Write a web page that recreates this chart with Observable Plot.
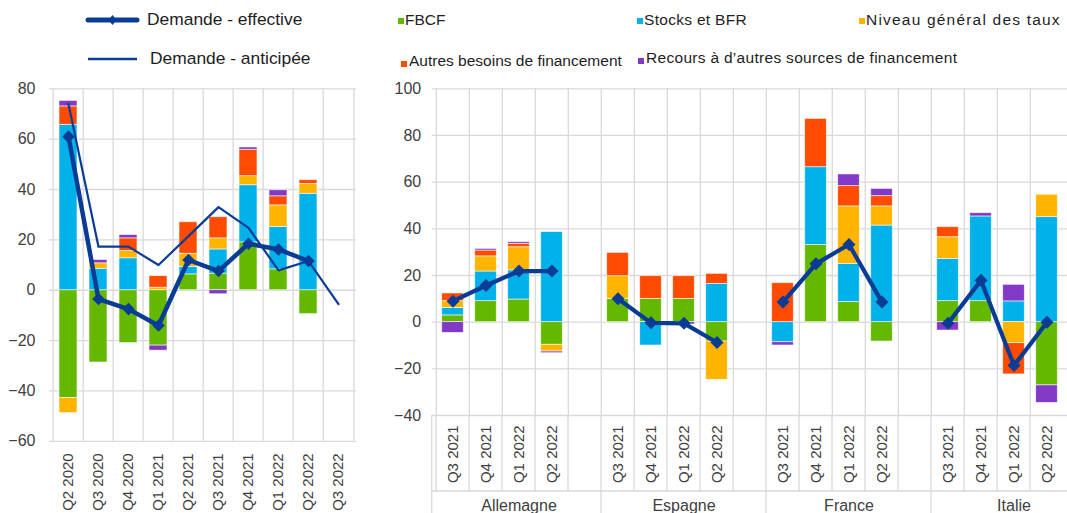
<!DOCTYPE html>
<html><head><meta charset="utf-8">
<script src="https://cdn.jsdelivr.net/npm/d3@7"></script>
<script src="https://cdn.jsdelivr.net/npm/@observablehq/plot@0.6"></script>
<style>
body{margin:0;background:#fff;font-family:Arial,"Liberation Sans",sans-serif;}
#wrap{position:relative;width:1067px;height:513px;overflow:hidden;background:#fff;}
.abs{position:absolute;}
.lg{position:absolute;white-space:nowrap;color:#1e1e1e;line-height:1;}
.sq{position:absolute;width:6px;height:6px;}
</style></head><body><div id="wrap"></div>
<script>
// ---------- data ----------
const seriesNames = ["FBCF","Stocks et BFR","Niveau général des taux","Autres besoins de financement","Recours à d’autres sources de financement"];
const seriesColors = ["#65b800","#00b1ea","#ffb400","#ff4b00","#8139c6"];
const lineNames = ["Demande - effective","Demande - anticipée"];
const lineColor = "#0a3c96";

// left panel: euro area
const leftQuarters = ["Q2 2020","Q3 2020","Q4 2020","Q1 2021","Q2 2021","Q3 2021","Q4 2021","Q1 2022","Q2 2022","Q3 2022"];
const fbcfL    = [-42.8, -28.7, -21.0, -22.0, 6.3, 6.6, 19.0, 8.3, -9.5, null];
const stocksL  = [65.7, 8.5, 12.7, 0, 3.0, 9.6, 22.7, 16.8, 38.3, null];
const tauxL    = [-6.0, 2.2, 2.9, 1.0, 5.2, 4.4, 3.6, 8.6, 3.9, null];
const autresL  = [7.3, 0, 5.0, 4.6, 12.5, 8.4, 10.5, 3.6, 1.5, null];
const recoursL = [2.2, 1.3, 1.3, -2.0, 0, -1.6, 0.9, 2.4, 0, null];
const effL     = [61.0, -3.5, -7.5, -14.0, 12.0, 7.6, 18.5, 16.2, 11.6, null];
const antL     = [73.9, 17.3, 17.3, 10.0, 21.5, 33.0, 24.8, 7.9, 11.6, -5.5];

// right panel: countries
const countries = ["Allemagne","Espagne","France","Italie"];
const rightQuarters = ["Q3 2021","Q4 2021","Q1 2022","Q2 2022"];
const fbcfR    = [2.9, 9.0, 9.7, -9.7,   10.0, 10.0, 10.0, -8.3,   0, 33.1, 8.6, -8.3,    9.0, 9.0, 0, -27.1];
const stocksR  = [3.2, 12.7, 12.5, 38.6, 0, -10.0, 0, 16.4,     -8.6, 33.3, 16.4, 41.4,  18.1, 36.3, 8.9, 45.0];
const tauxR    = [2.9, 6.5, 9.9, -2.9,   9.7, 0, 0, -16.4,      0, 0, 24.6, 8.2,         9.3, 0, -9.0, 9.6];
const autresR  = [3.3, 2.5, 1.5, 0,      10.0, 9.7, 9.7, 4.3,   16.7, 20.7, 8.7, 4.4,    4.3, 0, -13.4, 0];
const recoursR = [-4.6, 0.7, 0.7, -0.7,  0, 0, -1.0, 0,         -1.4, 0, 5.0, 3.1,       -3.6, 1.4, 7.1, -7.5];
const effR     = [9.0, 15.7, 21.9, 21.9, 10.0, -0.3, -0.5, -8.7, 8.6, 25.0, 33.3, 8.6,   -0.5, 17.9, -18.6, 0];

// ---------- helpers ----------
const wrap = document.getElementById("wrap");
const diamond = {draw(ctx, size){ const r = Math.sqrt(size/2); ctx.moveTo(0,-r); ctx.lineTo(r,0); ctx.lineTo(0,r); ctx.lineTo(-r,0); ctx.closePath(); }};
const colorOpt = {domain: seriesNames, range: seriesColors};
const gridColor = "#d9d9d9";
const axisColor = "#404040";
const font = "Arial, 'Liberation Sans', sans-serif";

// ---------- left plot ----------
const leftSeries = [fbcfL, stocksL, tauxL, autresL, recoursL];
const leftRows = [];
leftSeries.forEach((arr, i) => arr.forEach((v, j) => { if (v) leftRows.push({q: leftQuarters[j], s: seriesNames[i], v}); }));
const effLRows = leftQuarters.map((q, j) => ({q, v: effL[j]})).filter(d => d.v != null);
const antLRows = leftQuarters.map((q, j) => ({q, v: antL[j]})).filter(d => d.v != null);

const W1 = 365, H1 = 433, ml1 = 49, mr1 = 9;
const step1 = (W1 - ml1 - mr1) / leftQuarters.length;
const left = Plot.plot({
  width: W1, height: H1, marginTop: 8.3, marginBottom: 72.2, marginLeft: ml1, marginRight: mr1,
  x: {domain: leftQuarters, padding: 0, axis: null},
  y: {domain: [-60, 80], axis: null},
  color: colorOpt,
  style: {fontFamily: font, background: "transparent", overflow: "visible"},
  marks: [
    Plot.ruleY(d3.range(-60, 81, 20), {stroke: gridColor, strokeWidth: 1.3}),
    Plot.ruleX(leftQuarters, {x: d => d, dx: -step1/2, stroke: gridColor, strokeWidth: 1.3}),
    Plot.ruleX([leftQuarters[leftQuarters.length-1]], {x: d => d, dx: step1/2, stroke: gridColor, strokeWidth: 1.3}),
    Plot.axisY({ticks: d3.range(-60, 81, 20), tickSize: 0, tickPadding: 14, fontSize: 16, color: axisColor, label: null}),
    Plot.axisX({tickSize: 0, tickPadding: 12, tickRotate: -90, fontSize: 15, color: axisColor, label: null}),
    Plot.barY(leftRows, Plot.stackY({x: "q", y: "v", fill: "s", order: seriesNames, insetLeft: 6, insetRight: 6, stroke: "white", strokeWidth: 0.8, strokeOpacity: 0.7})),
    Plot.line(antLRows, {x: "q", y: "v", stroke: lineColor, strokeWidth: 2.2}),
    Plot.line(effLRows, {x: "q", y: "v", stroke: lineColor, strokeWidth: 4.5}),
    Plot.dot(effLRows, {x: "q", y: "v", symbol: diamond, r: 5, fill: lineColor, stroke: null})
  ]
});
left.classList.add("abs");
left.style.left = "0px"; left.style.top = "80px";
wrap.appendChild(left);

// ---------- right plot ----------
const keys = [];
countries.forEach((c, ci) => { rightQuarters.forEach(q => keys.push(c + "|" + q)); if (ci < countries.length - 1) keys.push("gap" + ci); });
const rightSeries = [fbcfR, stocksR, tauxR, autresR, recoursR];
const rightRows = [];
rightSeries.forEach((arr, i) => arr.forEach((v, j) => {
  if (v) rightRows.push({k: countries[Math.floor(j/4)] + "|" + rightQuarters[j%4], g: countries[Math.floor(j/4)], s: seriesNames[i], v});
}));
const effRRows = effR.map((v, j) => ({k: countries[Math.floor(j/4)] + "|" + rightQuarters[j%4], g: countries[Math.floor(j/4)], v}));

const W2 = 687, H2 = 433, ml2 = 51.7, mr2 = 0, mb2 = 98;
const step2 = (W2 - ml2 - mr2) / keys.length;
const right = Plot.plot({
  width: W2, height: H2, marginTop: 8.3, marginBottom: mb2, marginLeft: ml2, marginRight: mr2,
  x: {domain: keys, padding: 0, axis: null},
  y: {domain: [-40, 100], axis: null},
  color: colorOpt,
  style: {fontFamily: font, background: "transparent", overflow: "visible"},
  marks: [
    Plot.ruleY(d3.range(-40, 101, 20), {stroke: gridColor, strokeWidth: 1.3}),
    Plot.ruleX(keys, {x: d => d, dx: -step2/2, stroke: gridColor, strokeWidth: 1.3}),
    Plot.axisY({ticks: d3.range(-40, 101, 20), tickSize: 0, tickPadding: 11, fontSize: 16, color: axisColor, label: null}),
    Plot.axisX({tickSize: 0, tickPadding: 10, tickRotate: -90, fontSize: 15, color: axisColor, label: null,
                tickFormat: k => k.startsWith("gap") ? "" : k.split("|")[1]}),
    Plot.text(countries, {x: c => c + "|" + rightQuarters[2], text: d => d, frameAnchor: "bottom", lineAnchor: "middle", dy: 90, fontSize: 16, fill: axisColor}),
    Plot.barY(rightRows, Plot.stackY({x: "k", y: "v", fill: "s", order: seriesNames, insetLeft: 5.7, insetRight: 5.7, stroke: "white", strokeWidth: 0.8, strokeOpacity: 0.7})),
    Plot.line(effRRows, {x: "k", y: "v", z: "g", stroke: lineColor, strokeWidth: 4.2}),
    Plot.dot(effRRows, {x: "k", y: "v", symbol: diamond, r: 5.2, fill: lineColor, stroke: null})
  ]
});
// category separators below the frame (multi-level axis)
{
  const xs = right.scale("x");
  const svg = d3.select(right);
  const yb = H2 - mb2, yh = 411, ye = H2;
  const g = svg.append("g").attr("stroke", gridColor).attr("stroke-width", 1.3);
  keys.forEach((k, i) => {
    const x = xs.apply(k);
    const isGroupEdge = i > 0 && keys[i-1].startsWith("gap");
    g.append("line").attr("x1", x).attr("x2", x).attr("y1", yb).attr("y2", isGroupEdge ? ye : yh);
  });
  g.append("line").attr("x1", ml2).attr("x2", W2).attr("y1", yh).attr("y2", yh);
  g.append("line").attr("x1", ml2).attr("x2", ml2).attr("y1", yb).attr("y2", ye);
}
right.classList.add("abs");
right.style.left = "380px"; right.style.top = "80px";
wrap.appendChild(right);

// ---------- legend ----------
function addText(txt, x, y, size, ls) {
  const d = document.createElement("div"); d.className = "lg"; d.textContent = txt;
  d.style.left = x + "px"; d.style.top = y + "px"; d.style.fontSize = size + "px";
  if (ls) d.style.letterSpacing = ls + "px";
  wrap.appendChild(d);
}
function addSq(color, x, y) {
  const d = document.createElement("div"); d.className = "sq"; d.style.background = color;
  d.style.left = x + "px"; d.style.top = y + "px"; wrap.appendChild(d);
}
const lsvg = d3.select(wrap).append("svg").attr("class", "abs").style("left", "0px").style("top", "0px")
  .attr("width", 150).attr("height", 80);
lsvg.append("line").attr("x1", 88).attr("x2", 137).attr("y1", 20).attr("y2", 20).attr("stroke", lineColor).attr("stroke-width", 5).attr("stroke-linecap", "round");
lsvg.append("path").attr("d", "M112.5,15L116.5,20L112.5,25L108.5,20Z").attr("fill", lineColor);
lsvg.append("line").attr("x1", 88).attr("x2", 137).attr("y1", 59).attr("y2", 59).attr("stroke", lineColor).attr("stroke-width", 2.5);
addText(lineNames[0], 147, 11, 17.4);
addText(lineNames[1], 150, 50, 17.4);
addSq(seriesColors[0], 398, 18); addText(seriesNames[0], 405, 12, 15.5);
addSq(seriesColors[1], 637, 18); addText(seriesNames[1], 644, 12, 15.5, 0.3);
addSq(seriesColors[2], 859, 18); addText(seriesNames[2], 866, 12, 15.5, 1.2);
addSq(seriesColors[3], 401, 61); addText(seriesNames[3], 409, 53, 15.5);
addSq(seriesColors[4], 638, 58); addText(seriesNames[4], 646, 50, 15.5, 0.3);
</script></body></html>
